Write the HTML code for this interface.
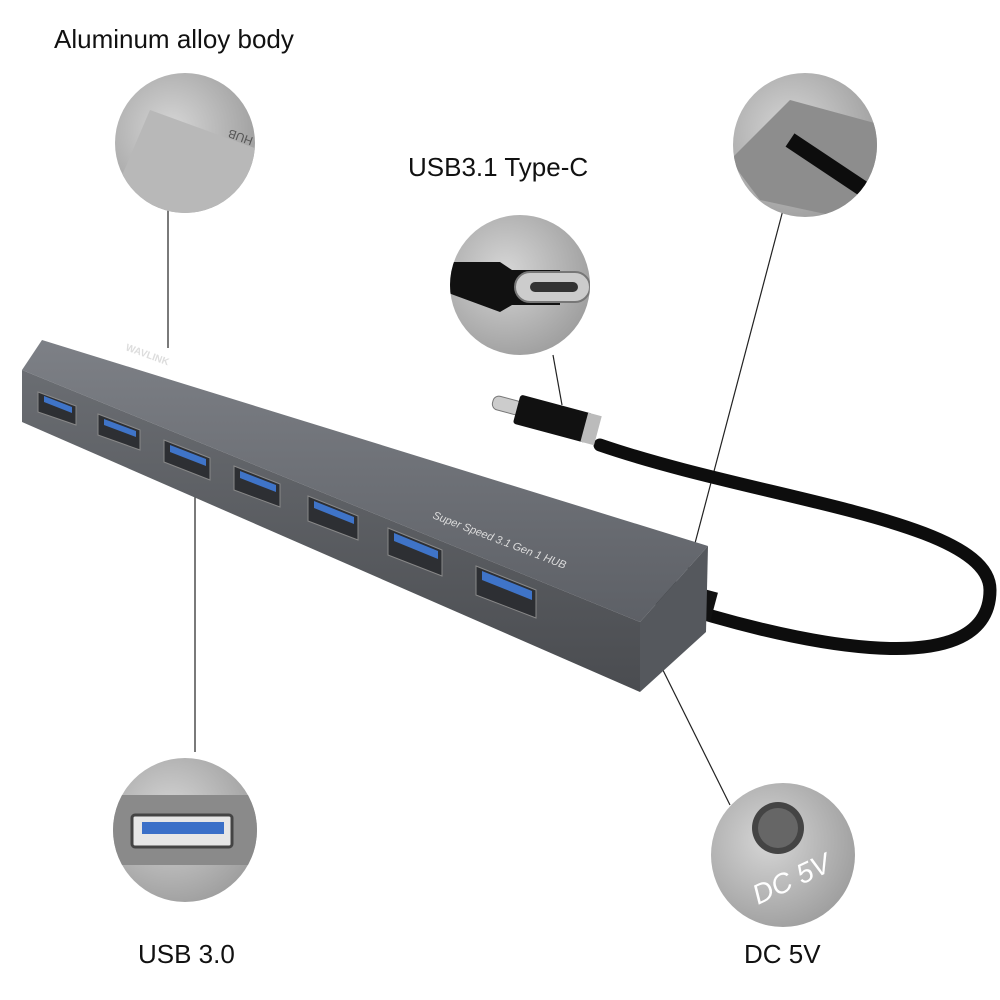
<!DOCTYPE html>
<html><head><meta charset="utf-8"><style>
html,body{margin:0;padding:0;background:#fff;width:1000px;height:1000px;overflow:hidden}
svg{display:block}
text{font-family:"Liberation Sans",sans-serif}
</style></head><body>
<svg width="1000" height="1000" viewBox="0 0 1000 1000" xmlns="http://www.w3.org/2000/svg">
<defs>
<radialGradient id="cg" cx="0.4" cy="0.4" r="0.7">
<stop offset="0" stop-color="#d6d6d6"/><stop offset="1" stop-color="#9a9a9a"/></radialGradient>
<linearGradient id="top" x1="0" y1="0" x2="0" y2="1">
<stop offset="0" stop-color="#7d8086"/><stop offset="1" stop-color="#5d6066"/></linearGradient>
<linearGradient id="front" x1="0" y1="0" x2="0" y2="1">
<stop offset="0" stop-color="#6a6d72"/><stop offset="1" stop-color="#4a4c50"/></linearGradient>
<clipPath id="c1"><circle cx="185" cy="143" r="70"/></clipPath>
<clipPath id="c2"><circle cx="520" cy="285" r="70"/></clipPath>
<clipPath id="c3"><circle cx="805" cy="145" r="72"/></clipPath>
<clipPath id="c4"><circle cx="185" cy="830" r="72"/></clipPath>
<clipPath id="c5"><circle cx="783" cy="855" r="72"/></clipPath>
</defs>

<text x="54" y="48" font-size="26" fill="#111">Aluminum alloy body</text>
<text x="408" y="176" font-size="26" fill="#111">USB3.1 Type-C</text>
<text x="138" y="963" font-size="26" fill="#111">USB 3.0</text>
<text x="744" y="963" font-size="26" fill="#111">DC 5V</text>

<g stroke="#222" stroke-width="1.2">
<line x1="168" y1="210" x2="168" y2="348"/>
<line x1="553" y1="355" x2="562" y2="405"/>
<line x1="783" y1="210" x2="680" y2="600"/>
<line x1="195" y1="460" x2="195" y2="752"/>
<line x1="648" y1="640" x2="730" y2="805"/>
</g>

<circle cx="185" cy="143" r="70" fill="url(#cg)"/>
<g clip-path="url(#c1)">
<path d="M120 180 L150 110 L260 150 L260 220 L120 220Z" fill="#b8b8b8"/>
<text x="0" y="0" font-size="12" fill="#555" transform="translate(260,140) rotate(200)">I HUB</text>
</g>
<circle cx="520" cy="285" r="70" fill="url(#cg)"/>
<g clip-path="url(#c2)">
<path d="M440 262 L500 262 L512 270 L560 270 L560 305 L512 305 L500 312 L440 290Z" fill="#111"/>
<rect x="515" y="272" width="75" height="30" rx="15" fill="#ccc" stroke="#777" stroke-width="2"/>
<rect x="530" y="282" width="48" height="10" rx="5" fill="#333"/>
</g>
<circle cx="805" cy="145" r="72" fill="url(#cg)"/>
<g clip-path="url(#c3)">
<path d="M730 160 L790 100 L900 130 L900 230 L760 200Z" fill="#8d8d8d"/>
<path d="M790 140 L880 200" stroke="#0d0d0d" stroke-width="16"/>
</g>
<circle cx="185" cy="830" r="72" fill="url(#cg)"/>
<g clip-path="url(#c4)">
<rect x="100" y="795" width="170" height="70" fill="#8a8a8a"/>
<rect x="132" y="815" width="100" height="32" rx="3" fill="#e6e6e6" stroke="#444" stroke-width="3"/>
<rect x="142" y="822" width="82" height="12" fill="#3a6fc8"/>
</g>
<circle cx="783" cy="855" r="72" fill="url(#cg)"/>
<circle cx="778" cy="828" r="26" fill="#444"/>
<circle cx="778" cy="828" r="20" fill="#666"/>
<text x="0" y="0" font-size="28" fill="#fff" font-style="italic" transform="translate(758,905) rotate(-25)">DC 5V</text>

<path d="M600 445 C760 500 990 520 990 590 C990 690 780 640 660 600" fill="none" stroke="#0d0d0d" stroke-width="13" stroke-linecap="round"/>
<rect x="660" y="585" width="55" height="30" fill="#111" transform="rotate(15 687 600)"/>
<g transform="rotate(15 550 420)">
<rect x="490" y="410" width="30" height="14" rx="6" fill="#ccc" stroke="#777"/>
<rect x="515" y="403" width="75" height="30" rx="3" fill="#111"/>
<rect x="585" y="403" width="14" height="30" fill="#bbb"/>
</g>

<polygon points="22,370 42,340 708,546 640,622" fill="url(#top)"/>
<polygon points="22,370 640,622 640,692 22,422" fill="url(#front)"/>
<polygon points="640,622 708,546 706,632 640,692" fill="#55585d"/>
<text x="0" y="0" font-size="11" fill="#ddd" font-style="italic" transform="translate(432,518) rotate(21)">Super Speed 3.1 Gen 1 HUB</text>
<text x="0" y="0" font-size="10" fill="#ddd" font-weight="bold" transform="translate(125,350) rotate(20)">WAVLINK</text>
<g fill="#2d2f33" stroke="#888" stroke-width="1">
<polygon points="38,392 76,406 76,425 38,412"/>
<polygon points="98,414 140,430 140,450 98,435"/>
<polygon points="164,440 210,458 210,480 164,462"/>
<polygon points="234,466 280,484 280,507 234,490"/>
<polygon points="308,496 358,516 358,540 308,521"/>
<polygon points="388,528 442,550 442,576 388,555"/>
<polygon points="476,566 536,590 536,618 476,595"/>
</g>
<g fill="#3f74c8">
<polygon points="44,396 72,407 72,413 44,402"/>
<polygon points="104,419 136,431 136,437 104,425"/>
<polygon points="170,445 206,459 206,466 170,452"/>
<polygon points="240,471 276,485 276,492 240,478"/>
<polygon points="314,501 354,517 354,524 314,508"/>
<polygon points="394,533 438,551 438,559 394,541"/>
<polygon points="482,571 532,591 532,600 482,580"/>
</g>
</svg>
</body></html>
